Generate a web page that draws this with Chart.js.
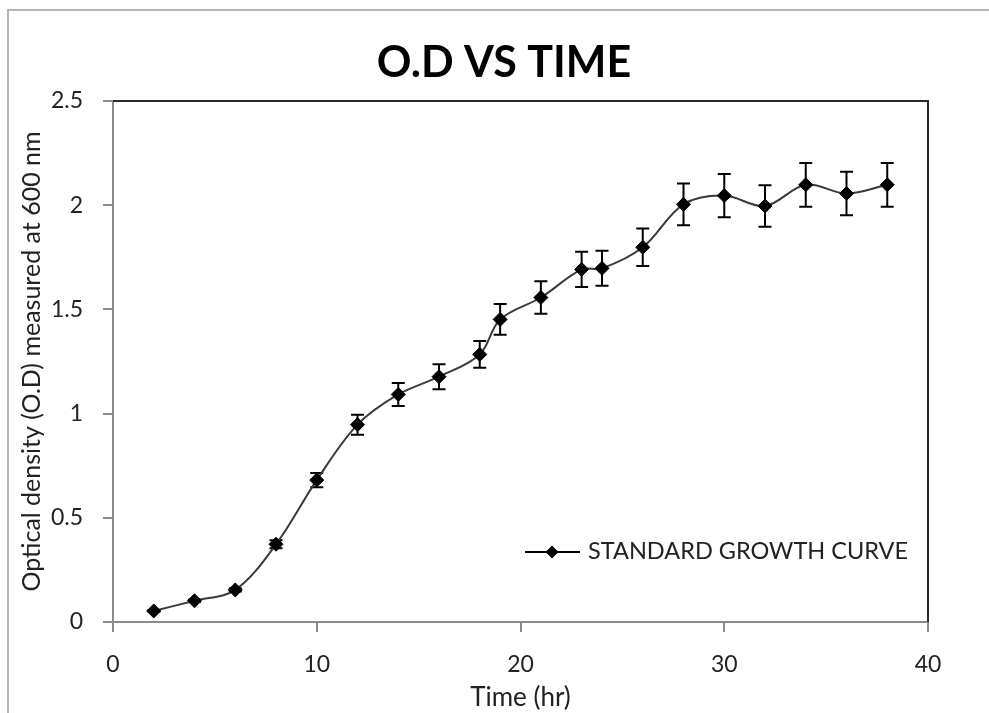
<!DOCTYPE html>
<html><head><meta charset="utf-8">
<script src="https://cdn.jsdelivr.net/npm/chart.js@4/dist/chart.umd.min.js"></script>
<style>html,body{margin:0;padding:0;background:#fff;} canvas{display:block}</style>
</head><body>
<canvas id="c" width="989" height="713"></canvas>
<script>
const chartTitle = 'O.D VS TIME';
const seriesName = 'STANDARD GROWTH CURVE';
const xAxisTitle = 'Time (hr)';
const yAxisTitle = 'Optical density (O.D) measured at 600 nm';
const times = [2, 4, 6, 8, 10, 12, 14, 16, 18, 19, 21, 23, 24, 26, 28, 30, 32, 34, 36, 38];
const od = [0.053, 0.102, 0.154, 0.373, 0.681, 0.947, 1.092, 1.177, 1.284, 1.452, 1.557, 1.692, 1.697, 1.798, 2.004, 2.046, 1.996, 2.098, 2.056, 2.098];
const odError = [0.003, 0.005, 0.008, 0.019, 0.034, 0.048, 0.055, 0.06, 0.064, 0.074, 0.078, 0.085, 0.084, 0.09, 0.1, 0.104, 0.1, 0.105, 0.104, 0.105];
const xTickLabels = ['0', '10', '20', '30', '40'];
const yTickLabels = ['0', '0.5', '1', '1.5', '2', '2.5'];
const xTickStep = 10;
const yTickStep = 0.5;

const FONT = 'Lato';
const TEXT = '#222';

const framePlugin = {
  id: 'frame',
  beforeDraw(chart) {
    const c = chart.ctx;
    c.save();
    c.fillStyle = '#fff';
    c.fillRect(0, 0, chart.width, chart.height);
    c.strokeStyle = '#b4b4b4';
    c.lineWidth = 2;
    c.beginPath();
    c.moveTo(8, chart.height);
    c.lineTo(8, 10);
    c.lineTo(chart.width, 10);
    c.stroke();
    c.restore();
  }
};

const errorBarPlugin = {
  id: 'errorBars',
  beforeDatasetsDraw(chart) {
    const c = chart.ctx;
    const xs = chart.scales.x, ys = chart.scales.y;
    c.save();
    c.strokeStyle = '#000';
    c.lineWidth = 2;
    times.forEach((t, i) => {
      const px = xs.getPixelForValue(t);
      const top = ys.getPixelForValue(od[i] + odError[i]);
      const bot = ys.getPixelForValue(od[i] - odError[i]);
      c.beginPath();
      c.moveTo(px, top); c.lineTo(px, bot);
      c.moveTo(px - 6.5, top); c.lineTo(px + 6.5, top);
      c.moveTo(px - 6.5, bot); c.lineTo(px + 6.5, bot);
      c.stroke();
    });
    c.restore();
  }
};

const decorPlugin = {
  id: 'decor',
  afterDraw(chart) {
    const c = chart.ctx;
    const a = chart.chartArea;
    c.save();
    c.strokeStyle = '#2a2a2a';
    c.lineWidth = 2;
    c.beginPath();
    c.moveTo(a.left, a.top);
    c.lineTo(a.right, a.top);
    c.lineTo(a.right, a.bottom);
    c.stroke();
    c.fillStyle = '#000';
    c.font = 'bold 43px ' + FONT;
    c.textAlign = 'center';
    c.textBaseline = 'alphabetic';
    c.fillText(chartTitle, 504, 77);
    const ly = 552;
    c.strokeStyle = '#000';
    c.lineWidth = 2;
    c.beginPath();
    c.moveTo(525, ly); c.lineTo(580, ly);
    c.stroke();
    c.fillStyle = '#000';
    c.beginPath();
    c.moveTo(552 - 6.5, ly); c.lineTo(552, ly - 6.5); c.lineTo(552 + 6.5, ly); c.lineTo(552, ly + 6.5);
    c.closePath();
    c.fill();
    c.fillStyle = TEXT;
    c.font = '23.5px ' + FONT;
    c.textAlign = 'left';
    c.fillText(seriesName, 588, 559);
    c.restore();
  }
};

new Chart(document.getElementById('c'), {
  type: 'line',
  data: {
    datasets: [{
      label: seriesName,
      data: times.map((t, i) => ({x: t, y: od[i]})),
      borderColor: '#3a3a3a',
      borderWidth: 2,
      tension: 0.35,
      fill: false,
      pointStyle: 'rectRot',
      pointRadius: 7,
      pointBackgroundColor: '#000',
      pointBorderColor: '#000',
      pointBorderWidth: 1
    }]
  },
  options: {
    responsive: false,
    animation: false,
    events: [],
    layout: {padding: {left: 0, top: 101, right: 61, bottom: 0}},
    plugins: {legend: {display: false}, title: {display: false}, tooltip: {enabled: false}},
    scales: {
      x: {
        type: 'linear', min: 0, max: 40,
        ticks: {stepSize: xTickStep, padding: 19, color: TEXT, font: {family: FONT, size: 23},
          callback: (v, i) => xTickLabels[i]},
        grid: {drawOnChartArea: false, drawTicks: true, tickLength: 10, color: '#8c8c8c', lineWidth: 2},
        border: {color: '#8c8c8c', width: 2},
        title: {display: true, text: xAxisTitle, color: TEXT, font: {family: FONT, size: 26}, padding: {top: 0, bottom: 0}},
        afterFit(s) { s.height = 91; }
      },
      y: {
        type: 'linear', min: 0, max: 2.5,
        ticks: {stepSize: yTickStep, padding: 20, color: TEXT, font: {family: FONT, size: 23},
          callback: (v, i) => yTickLabels[i]},
        grid: {drawOnChartArea: false, drawTicks: true, tickLength: 10, color: '#8c8c8c', lineWidth: 2},
        border: {color: '#8c8c8c', width: 2},
        title: {display: true, text: yAxisTitle, color: TEXT, font: {family: FONT, size: 25}, padding: {top: 17, bottom: 0}},
        afterFit(s) { s.width = 113; }
      }
    }
  },
  plugins: [framePlugin, errorBarPlugin, decorPlugin]
});
</script>
</body></html>
